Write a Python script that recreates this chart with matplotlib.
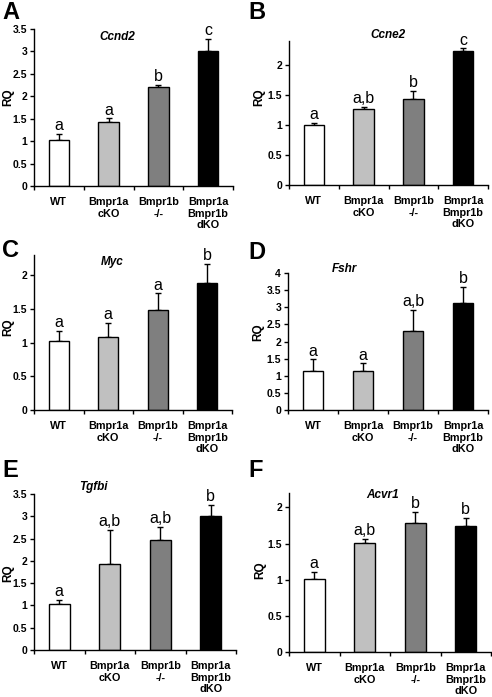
import matplotlib
matplotlib.use("Agg")
import matplotlib.pyplot as plt

plt.rcParams['font.family'] = ['Liberation Sans', 'DejaVu Sans']

W, H = 492, 697

groups = ["WT", "Bmpr1a\ncKO", "Bmpr1b\n-/-", "Bmpr1a\nBmpr1b\ndKO"]
bar_colors = ["#ffffff", "#c0c0c0", "#7f7f7f", "#000000"]

# panel data: gene, means, errors (upper only), significance letters
genes = ["Ccnd2", "Ccne2", "Myc", "Fshr", "Tgfbi", "Acvr1"]
panel_letters = ["A", "B", "C", "D", "E", "F"]

ccnd2_mean = [1.03, 1.43, 2.20, 3.00]
ccnd2_err = [0.13, 0.08, 0.05, 0.28]
ccnd2_sig = ["a", "a", "b", "c"]

ccne2_mean = [1.00, 1.26, 1.44, 2.23]
ccne2_err = [0.04, 0.04, 0.13, 0.05]
ccne2_sig = ["a", "a,b", "b", "c"]

myc_mean = [1.03, 1.09, 1.48, 1.89]
myc_err = [0.14, 0.20, 0.25, 0.28]
myc_sig = ["a", "a", "a", "b"]

fshr_mean = [1.15, 1.13, 2.32, 3.13]
fshr_err = [0.33, 0.23, 0.60, 0.47]
fshr_sig = ["a", "a", "a,b", "b"]

tgfbi_mean = [1.03, 1.92, 2.46, 3.00]
tgfbi_err = [0.10, 0.77, 0.30, 0.25]
tgfbi_sig = ["a", "a,b", "a,b", "b"]

acvr1_mean = [1.01, 1.51, 1.78, 1.74]
acvr1_err = [0.10, 0.06, 0.16, 0.12]
acvr1_sig = ["a", "a,b", "b", "b"]

means = [ccnd2_mean, ccne2_mean, myc_mean, fshr_mean, tgfbi_mean, acvr1_mean]
errs = [ccnd2_err, ccne2_err, myc_err, fshr_err, tgfbi_err, acvr1_err]
sigs = [ccnd2_sig, ccne2_sig, myc_sig, fshr_sig, tgfbi_sig, acvr1_sig]
ylims = [3.5, 2.4, 2.3, 4.0, 3.5, 2.2]
ysteps = [0.5, 0.5, 0.5, 0.5, 0.5, 0.5]

# axes boxes in pixels: left, right, top, bottom
boxes = [(34, 233, 29, 186), (289, 488, 41, 185),
         (34, 232, 255, 410), (288, 488, 273, 410),
         (34, 236, 494, 650), (289, 491, 493, 652)]
letter_pos = [(2, 1), (248, 1), (2, 239), (248, 241), (2, 459), (248, 459)]
title_pos = [(117, 37), (388, 35), (112, 262), (344, 269), (93, 487), (383, 495)]
rq_pos = [(8, 97), (259, 97), (8, 327), (258, 332), (8, 573), (260, 570)]

fig = plt.figure(figsize=(W / 100, H / 100), dpi=100)

for i in range(6):
    l, r, t, b = boxes[i]
    ax = fig.add_axes([l / W, 1 - b / H, (r - l) / W, (b - t) / H])
    x = [0.5, 1.5, 2.5, 3.5]
    ax.bar(x, means[i], width=0.41, color=bar_colors, edgecolor="black", linewidth=1, zorder=2)
    ax.errorbar(x, means[i], yerr=[[0] * 4, errs[i]], fmt="none", ecolor="black",
                elinewidth=1, capsize=2.5, capthick=1, zorder=1)
    for xi, m, e, s in zip(x, means[i], errs[i], sigs[i]):
        ax.annotate(s, (xi, m + e), xytext=(0, 0.5), textcoords="offset points",
                    ha="center", va="bottom", fontsize=11.5)
    ax.set_xlim(0, 4)
    ax.set_ylim(0, ylims[i])
    ticks = []
    v = 0.0
    while v <= ylims[i] + 1e-9:
        ticks.append(round(v, 2))
        v += ysteps[i]
    ax.set_yticks(ticks)
    ax.set_yticklabels([("%g" % tv) for tv in ticks], fontsize=7.5, fontweight="bold")
    ax.set_xticks([0, 1, 2, 3, 4])
    ax.set_xticklabels([])
    ax.set_xticks(x, minor=True)
    ax.set_xticklabels(groups, minor=True, fontsize=7.8, fontweight="bold", linespacing=1.2)
    ax.tick_params(axis="x", which="minor", length=0, pad=8)
    ax.tick_params(axis="x", which="major", length=3, width=1)
    ax.tick_params(axis="y", length=3, width=1, pad=2)
    for sp in ["top", "right"]:
        ax.spines[sp].set_visible(False)
    for sp in ["left", "bottom"]:
        ax.spines[sp].set_linewidth(1)

    rx, ry = rq_pos[i]
    fig.text(rx / W, 1 - ry / H, "RQ", fontsize=8.5, fontweight="bold", rotation=90,
             ha="center", va="center")
    lx, ly = letter_pos[i]
    fig.text(lx / W, 1 - ly / H, panel_letters[i], fontsize=17, fontweight="bold",
             ha="left", va="top")
    tx, ty = title_pos[i]
    fig.text(tx / W, 1 - ty / H, genes[i], fontsize=8.5, fontweight="bold",
             fontstyle="italic", ha="center", va="center")

fig.savefig("out.png", dpi=100)
